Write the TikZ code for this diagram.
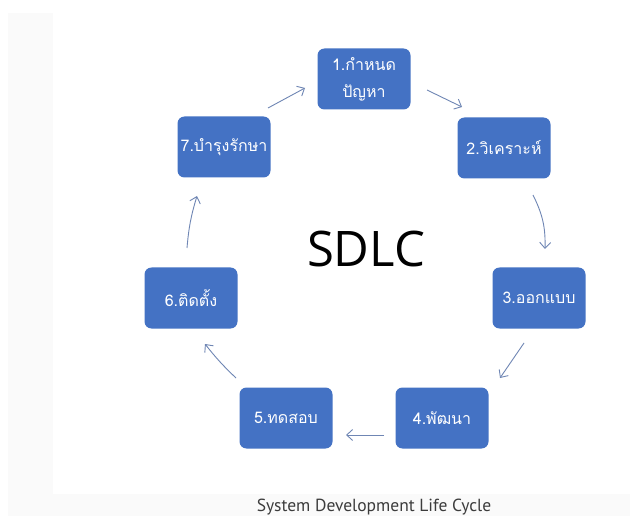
\documentclass[tikz,border=0pt]{standalone}
\usepackage{fontspec}
\setmainfont{Open Sans}
\newfontfamily\thaifont[Script=Thai]{Loma}
\newfontfamily\capfont{PT Sans}
\usetikzlibrary{arrows.meta}
\definecolor{boxblue}{HTML}{4472C4}
\definecolor{arrowc}{HTML}{6F86B4}
\definecolor{bggray}{HTML}{FAFAFA}
\definecolor{captxt}{HTML}{3C3C3C}
\tikzset{
  stepbox/.style={fill=boxblue, rounded corners=7pt, minimum width=93pt, minimum height=61pt,
    text=white, font=\thaifont\fontsize{16}{27}\selectfont, align=center, inner sep=2pt},
  flow/.style={draw=arrowc, line width=0.9pt, -{Straight Barb[length=6pt,width=11pt]}}
}
\begin{document}
\begin{tikzpicture}[x=1pt,y=-1pt]
\useasboundingbox (0,0) rectangle (630,516);
\fill[white] (0,0) rectangle (630,516);
\fill[bggray] (8,13) rectangle (630,516);
\fill[white] (53,13) rectangle (630,494);

\node[stepbox] (n1) at (364,79) {1.กำหนด\\ปัญหา};
\node[stepbox] (n2) at (504,148) {2.วิเคราะห์};
\node[stepbox] (n3) at (539,298) {3.ออกแบบ};
\node[stepbox] (n4) at (442,418) {4.พัฒนา};
\node[stepbox] (n5) at (286,418) {5.ทดสอบ};
\node[stepbox] (n6) at (191,298) {6.ติดตั้ง};
\node[stepbox] (n7) at (224,147) {7.บำรุงรักษา};

\node[font=\fontsize{49}{55}\selectfont, text=black] (sdlc) at (366,249) {SDLC};
\node[font=\capfont\fontsize{17.5}{20}\selectfont, text=captxt] (cap) at (374,507) {System Development Life Cycle};

\coordinate (a71) at (268,108); \coordinate (b71) at (305,88);
\coordinate (a12) at (427,90);  \coordinate (b12) at (462,107);
\coordinate (a23) at (533,195); \coordinate (b23) at (545,249);
\coordinate (a34) at (524,343); \coordinate (b34) at (500,378);
\coordinate (a45) at (384,435); \coordinate (b45) at (346,435);
\coordinate (a56) at (236,378); \coordinate (b56) at (205,344);
\coordinate (a67) at (187,248); \coordinate (b67) at (197,196);

\draw[flow] (a71) -- (b71);
\draw[flow] (a12) -- (b12);
\draw[flow] (a23) to[bend left=14] (b23);
\draw[flow] (a34) -- (b34);
\draw[flow] (a45) -- (b45);
\draw[flow] (a56) to[bend left=4] (b56);
\draw[flow] (a67) to[bend left=6] (b67);
\end{tikzpicture}
\end{document}
